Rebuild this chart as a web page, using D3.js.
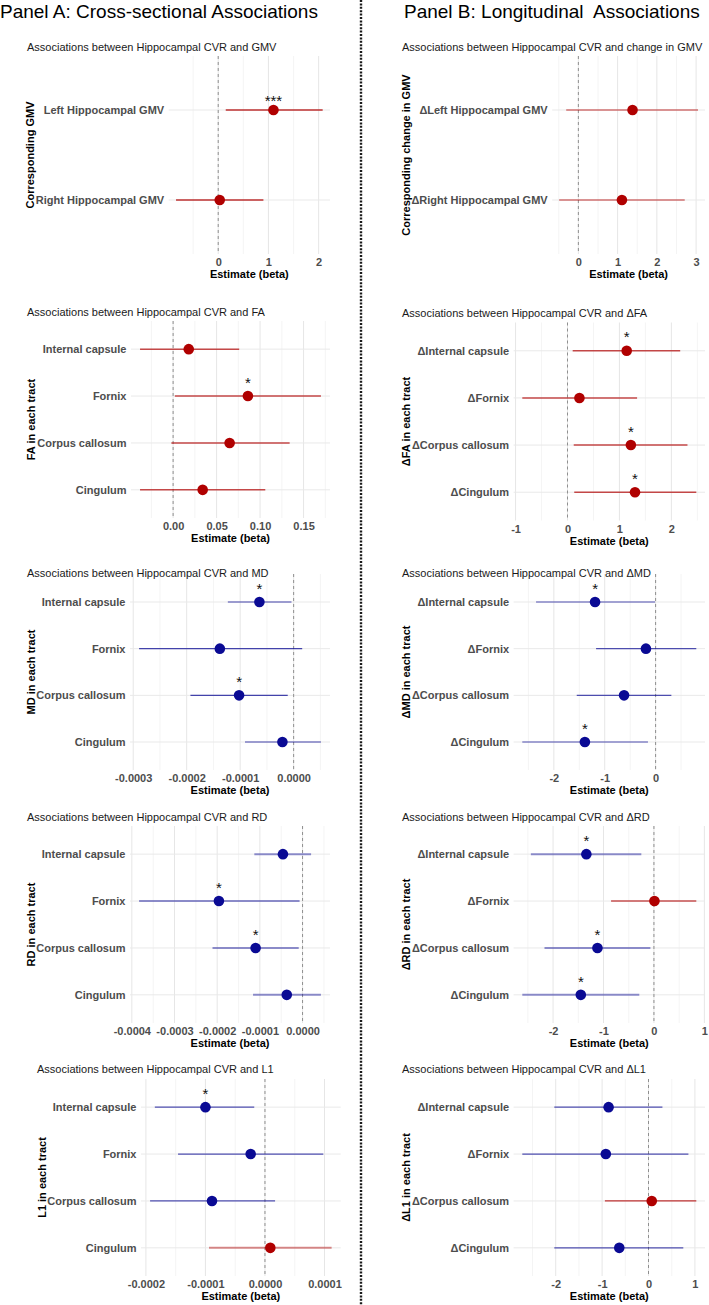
<!DOCTYPE html>
<html>
<head>
<meta charset="utf-8">
<script src="https://cdn.jsdelivr.net/npm/d3@7"></script>
<style>
  body { margin: 0; background: #fff; }
  svg { display: block; font-family: "Liberation Sans", Arial, sans-serif; }
</style>
</head>
<body>
<div id="chart"></div>
<script>
// categories (top to bottom)
const gmvCatsA = ["Left Hippocampal GMV", "Right Hippocampal GMV"];
const gmvCatsB = ["\u0394Left Hippocampal GMV", "\u0394Right Hippocampal GMV"];
const tractCatsA = ["Internal capsule", "Fornix", "Corpus callosum", "Cingulum"];
const tractCatsB = ["\u0394Internal capsule", "\u0394Fornix", "\u0394Corpus callosum", "\u0394Cingulum"];

// Panel A: cross-sectional
const estA_GMV = [1.10, 0.03];
const loA_GMV = [0.15, -0.84];
const hiA_GMV = [2.08, 0.90];
const sigA_GMV = ["***", ""];

const estA_FA = [0.018, 0.086, 0.065, 0.034];
const loA_FA = [-0.038, 0.002, -0.002, -0.038];
const hiA_FA = [0.076, 0.170, 0.134, 0.106];
const sigA_FA = ["", "*", "", ""];

const estA_MD = [-0.000064, -0.000138, -0.000102, -0.000021];
const loA_MD = [-0.000123, -0.000289, -0.000193, -0.000091];
const hiA_MD = [-0.000004, 0.000016, -0.000011, 0.000051];
const sigA_MD = ["*", "", "*", ""];

const estA_RD = [-0.000046, -0.000196, -0.000110, -0.000037];
const loA_RD = [-0.000113, -0.000383, -0.000211, -0.000116];
const hiA_RD = [0.000020, -0.000007, -0.000009, 0.000043];
const sigA_RD = ["", "*", "*", ""];

const estA_L1 = [-0.000100, -0.000024, -0.000089, 0.000009];
const loA_L1 = [-0.000185, -0.000146, -0.000193, -0.000094];
const hiA_L1 = [-0.000018, 0.000098, 0.000017, 0.000112];
const sigA_L1 = ["*", "", "", ""];

// Panel B: longitudinal
const estB_GMV = [1.38, 1.11];
const loB_GMV = [-0.31, -0.49];
const hiB_GMV = [3.05, 2.71];
const sigB_GMV = ["", ""];

const estB_FA = [1.14, 0.23, 1.22, 1.30];
const loB_FA = [0.10, -0.87, 0.12, 0.13];
const hiB_FA = [2.17, 1.34, 2.31, 2.48];
const sigB_FA = ["*", "", "*", "*"];

const estB_MD = [-1.19, -0.19, -0.62, -1.39];
const loB_MD = [-2.35, -1.17, -1.55, -2.62];
const hiB_MD = [-0.01, 0.80, 0.31, -0.15];
const sigB_MD = ["*", "", "", "*"];

const estB_RD = [-1.34, 0.01, -1.12, -1.45];
const loB_RD = [-2.44, -0.85, -2.17, -2.61];
const hiB_RD = [-0.25, 0.84, -0.07, -0.29];
const sigB_RD = ["*", "", "*", "*"];

const estB_L1 = [-0.86, -0.92, 0.07, -0.63];
const loB_L1 = [-2.03, -2.72, -0.94, -2.03];
const hiB_L1 = [0.30, 0.86, 1.03, 0.75];
const sigB_L1 = ["", "", "", ""];

// x ticks
const ticksA_GMV = [0, 1, 2];
const tickLabA_GMV = ["0", "1", "2"];
const ticksA_FA = [0, 0.05, 0.10, 0.15];
const tickLabA_FA = ["0.00", "0.05", "0.10", "0.15"];
const ticksA_MD = [-0.0003, -0.0002, -0.0001, 0];
const tickLabA_MD = ["-0.0003", "-0.0002", "-0.0001", "0.0000"];
const ticksA_RD = [-0.0004, -0.0003, -0.0002, -0.0001, 0];
const tickLabA_RD = ["-0.0004", "-0.0003", "-0.0002", "-0.0001", "0.0000"];
const ticksA_L1 = [-0.0002, -0.0001, 0, 0.0001];
const tickLabA_L1 = ["-0.0002", "-0.0001", "0.0000", "0.0001"];
const ticksB_GMV = [0, 1, 2, 3];
const tickLabB_GMV = ["0", "1", "2", "3"];
const ticksB_FA = [-1, 0, 1, 2];
const tickLabB_FA = ["-1", "0", "1", "2"];
const ticksB_MD = [-2, -1, 0];
const tickLabB_MD = ["-2", "-1", "0"];
const ticksB_RD = [-2, -1, 0, 1];
const tickLabB_RD = ["-2", "-1", "0", "1"];
const ticksB_L1 = [-2, -1, 0, 1];
const tickLabB_L1 = ["-2", "-1", "0", "1"];

const panelTitles = ["Panel A: Cross-sectional Associations", "Panel B: Longitudinal  Associations"];

const RED = "#b00000", BLUE = "#0a0a94";

const plots = [
  { title: "Associations between Hippocampal CVR and GMV", yTitle: "Corresponding GMV",
    cats: gmvCatsA, est: estA_GMV, lo: loA_GMV, hi: hiA_GMV, sig: sigA_GMV, ticks: ticksA_GMV, tickLab: tickLabA_GMV,
    left: 168.7, right: 330, top: 56, bottom: 254, titleX: 27, titleY: 47, yTitleX: 30, starOff: 13,
    red: { w: 1.3, op: 0.8 }, blue: { w: 1.3, op: 0.8 } },
  { title: "Associations between Hippocampal CVR and FA", yTitle: "FA in each tract",
    cats: tractCatsA, est: estA_FA, lo: loA_FA, hi: hiA_FA, sig: sigA_FA, ticks: ticksA_FA, tickLab: tickLabA_FA,
    left: 131, right: 330, top: 321, bottom: 518, titleX: 27, titleY: 312, yTitleX: 31, starOff: 17,
    red: { w: 1.5, op: 0.7 }, blue: { w: 1.5, op: 0.7 } },
  { title: "Associations between Hippocampal CVR and MD", yTitle: "MD in each tract",
    cats: tractCatsA, est: estA_MD, lo: loA_MD, hi: hiA_MD, sig: sigA_MD, ticks: ticksA_MD, tickLab: tickLabA_MD,
    left: 130, right: 330, top: 574, bottom: 770, titleX: 27, titleY: 573, yTitleX: 31, starOff: 17,
    red: { w: 1.2, op: 0.75 }, blue: { w: 1.2, op: 0.75 } },
  { title: "Associations between Hippocampal CVR and RD", yTitle: "RD in each tract",
    cats: tractCatsA, est: estA_RD, lo: loA_RD, hi: hiA_RD, sig: sigA_RD, ticks: ticksA_RD, tickLab: tickLabA_RD,
    left: 130, right: 330, top: 826, bottom: 1023, titleX: 27, titleY: 817, yTitleX: 31, starOff: 17,
    red: { w: 2, op: 0.45 }, blue: { w: 2, op: 0.45 } },
  { title: "Associations between Hippocampal CVR and L1", yTitle: "L1 in each tract",
    cats: tractCatsA, est: estA_L1, lo: loA_L1, hi: hiA_L1, sig: sigA_L1, ticks: ticksA_L1, tickLab: tickLabA_L1,
    left: 141, right: 340.7, top: 1079, bottom: 1276, titleX: 37, titleY: 1069, yTitleX: 42, starOff: 17,
    red: { w: 2, op: 0.45 }, blue: { w: 1.2, op: 0.7 } },
  { title: "Associations between Hippocampal CVR and change in GMV", yTitle: "Corresponding change in GMV",
    cats: gmvCatsB, est: estB_GMV, lo: loB_GMV, hi: hiB_GMV, sig: sigB_GMV, ticks: ticksB_GMV, tickLab: tickLabB_GMV,
    left: 552.2, right: 705, top: 56, bottom: 254, titleX: 402, titleY: 47, yTitleX: 405.7, starOff: 13,
    red: { w: 1.2, op: 0.8 }, blue: { w: 1.2, op: 0.8 } },
  { title: "Associations between Hippocampal CVR and \u0394FA", yTitle: "\u0394FA in each tract",
    cats: tractCatsB, est: estB_FA, lo: loB_FA, hi: hiB_FA, sig: sigB_FA, ticks: ticksB_FA, tickLab: tickLabB_FA,
    left: 513.6, right: 705, top: 322.5, bottom: 520.5, titleX: 402, titleY: 313, yTitleX: 405.7, starOff: 17,
    red: { w: 1.5, op: 0.7 }, blue: { w: 1.5, op: 0.7 } },
  { title: "Associations between Hippocampal CVR and \u0394MD", yTitle: "\u0394MD in each tract",
    cats: tractCatsB, est: estB_MD, lo: loB_MD, hi: hiB_MD, sig: sigB_MD, ticks: ticksB_MD, tickLab: tickLabB_MD,
    left: 513.6, right: 705, top: 574, bottom: 770, titleX: 402, titleY: 573, yTitleX: 405.7, starOff: 17,
    red: { w: 1.2, op: 0.7 }, blue: { w: 1.2, op: 0.7 } },
  { title: "Associations between Hippocampal CVR and \u0394RD", yTitle: "\u0394RD in each tract",
    cats: tractCatsB, est: estB_RD, lo: loB_RD, hi: hiB_RD, sig: sigB_RD, ticks: ticksB_RD, tickLab: tickLabB_RD,
    left: 513.6, right: 705, top: 826, bottom: 1023, titleX: 402, titleY: 817, yTitleX: 405.7, starOff: 17,
    red: { w: 2, op: 0.5 }, blue: { w: 2, op: 0.45 } },
  { title: "Associations between Hippocampal CVR and \u0394L1", yTitle: "\u0394L1 in each tract",
    cats: tractCatsB, est: estB_L1, lo: loB_L1, hi: hiB_L1, sig: sigB_L1, ticks: ticksB_L1, tickLab: tickLabB_L1,
    left: 513.6, right: 705, top: 1079, bottom: 1276, titleX: 402, titleY: 1069, yTitleX: 405.7, starOff: 17,
    red: { w: 1.2, op: 0.8 }, blue: { w: 1.2, op: 0.7 } }
];

const svg = d3.select('#chart').append('svg')
  .attr('width', 709)
  .attr('height', 1305);

svg.append('rect').attr('width', 709).attr('height', 1305).attr('fill', '#fff');

// big panel headers
svg.append('text').attr('x', 0).attr('y', 17.5)
  .attr('font-size', 19).attr('fill', '#000')
  .text(panelTitles[0]);
svg.append('text').attr('x', 404).attr('y', 17.5)
  .attr('font-size', 19).attr('fill', '#000')
  .style('white-space', 'pre')
  .text(panelTitles[1]);

// dotted divider
svg.append('line')
  .attr('x1', 361).attr('x2', 361).attr('y1', 0).attr('y2', 1305)
  .attr('stroke', '#1a1a1a').attr('stroke-width', 2.4)
  .attr('stroke-dasharray', '2,1.4');

function drawForest(p) {
  const g = svg.append('g');
  const rows = p.cats.map((c, i) => ({ cat: c, est: p.est[i], lo: p.lo[i], hi: p.hi[i], sig: p.sig[i] }));

  // ggplot-like 5% expansion of the data range
  const minX = d3.min(p.lo), maxX = d3.max(p.hi);
  const pad = (maxX - minX) * 0.05;
  const x = d3.scaleLinear().domain([minX - pad, maxX + pad]).range([p.left, p.right]);
  const y = d3.scalePoint().domain(p.cats).range([p.top, p.bottom]).padding(0.6);
  const dom = x.domain();

  const step = p.ticks[1] - p.ticks[0];
  const minor = [p.ticks[0] - step / 2].concat(p.ticks.map(t => t + step / 2))
    .filter(v => v >= dom[0] && v <= dom[1]);

  // grid
  g.selectAll('.minor').data(minor).enter().append('line')
    .attr('x1', d => x(d)).attr('x2', d => x(d))
    .attr('y1', p.top).attr('y2', p.bottom)
    .attr('stroke', '#f1f1f1').attr('stroke-width', 0.8);
  g.selectAll('.major').data(p.ticks).enter().append('line')
    .attr('x1', d => x(d)).attr('x2', d => x(d))
    .attr('y1', p.top).attr('y2', p.bottom)
    .attr('stroke', '#e6e6e6').attr('stroke-width', 1);
  g.selectAll('.hgrid').data(p.cats).enter().append('line')
    .attr('x1', p.left).attr('x2', p.right)
    .attr('y1', d => y(d)).attr('y2', d => y(d))
    .attr('stroke', '#e9e9e9').attr('stroke-width', 1);

  // zero reference
  g.append('line')
    .attr('x1', x(0)).attr('x2', x(0))
    .attr('y1', p.top).attr('y2', p.bottom)
    .attr('stroke', '#8f8f8f').attr('stroke-width', 1)
    .attr('stroke-dasharray', '3,3');

  // confidence intervals
  g.selectAll('.ci').data(rows).enter().append('line')
    .attr('x1', d => x(d.lo)).attr('x2', d => x(d.hi))
    .attr('y1', d => y(d.cat)).attr('y2', d => y(d.cat))
    .attr('stroke', d => d.est >= 0 ? RED : BLUE)
    .attr('stroke-width', d => (d.est >= 0 ? p.red : p.blue).w)
    .attr('stroke-opacity', d => (d.est >= 0 ? p.red : p.blue).op);

  g.selectAll('.pt').data(rows).enter().append('circle')
    .attr('cx', d => x(d.est)).attr('cy', d => y(d.cat))
    .attr('r', 5.3)
    .attr('fill', d => d.est >= 0 ? RED : BLUE);

  g.selectAll('.star').data(rows.filter(d => d.sig)).enter().append('text')
    .attr('x', d => x(d.est)).attr('y', d => y(d.cat) - p.starOff)
    .attr('dy', '0.58em')
    .attr('text-anchor', 'middle')
    .attr('font-size', 15).attr('fill', '#111')
    .text(d => d.sig);

  // category labels
  g.selectAll('.cat').data(p.cats).enter().append('text')
    .attr('x', p.left - 4.5).attr('y', d => y(d))
    .attr('dy', '0.35em')
    .attr('text-anchor', 'end')
    .attr('font-size', 11).attr('font-weight', 'bold').attr('fill', '#4d4d4d')
    .text(d => d);

  // x axis
  const ax = g.append('g')
    .attr('transform', `translate(0,${p.bottom})`)
    .call(d3.axisBottom(x).tickValues(p.ticks).tickFormat((d, i) => p.tickLab[i]).tickSize(0).tickPadding(4.5));
  ax.select('.domain').remove();
  ax.selectAll('text')
    .attr('font-family', '"Liberation Sans", Arial, sans-serif')
    .attr('font-size', 11).attr('font-weight', 'bold').attr('fill', '#4d4d4d');

  g.append('text')
    .attr('x', (p.left + p.right) / 2).attr('y', p.bottom + 20.5)
    .attr('dy', '0.35em').attr('text-anchor', 'middle')
    .attr('font-size', 11).attr('font-weight', 'bold').attr('fill', '#000')
    .text('Estimate (beta)');

  // y title
  g.append('text')
    .attr('transform', `translate(${p.yTitleX},${(p.top + p.bottom) / 2}) rotate(-90)`)
    .attr('dy', '0.35em').attr('text-anchor', 'middle')
    .attr('font-size', 11).attr('font-weight', 'bold').attr('fill', '#000')
    .text(p.yTitle);

  // subtitle
  g.append('text')
    .attr('x', p.titleX).attr('y', p.titleY)
    .attr('dy', '0.35em')
    .attr('font-size', 11).attr('fill', '#1a1a1a')
    .text(p.title);
}

plots.forEach(drawForest);
</script>
</body>
</html>
